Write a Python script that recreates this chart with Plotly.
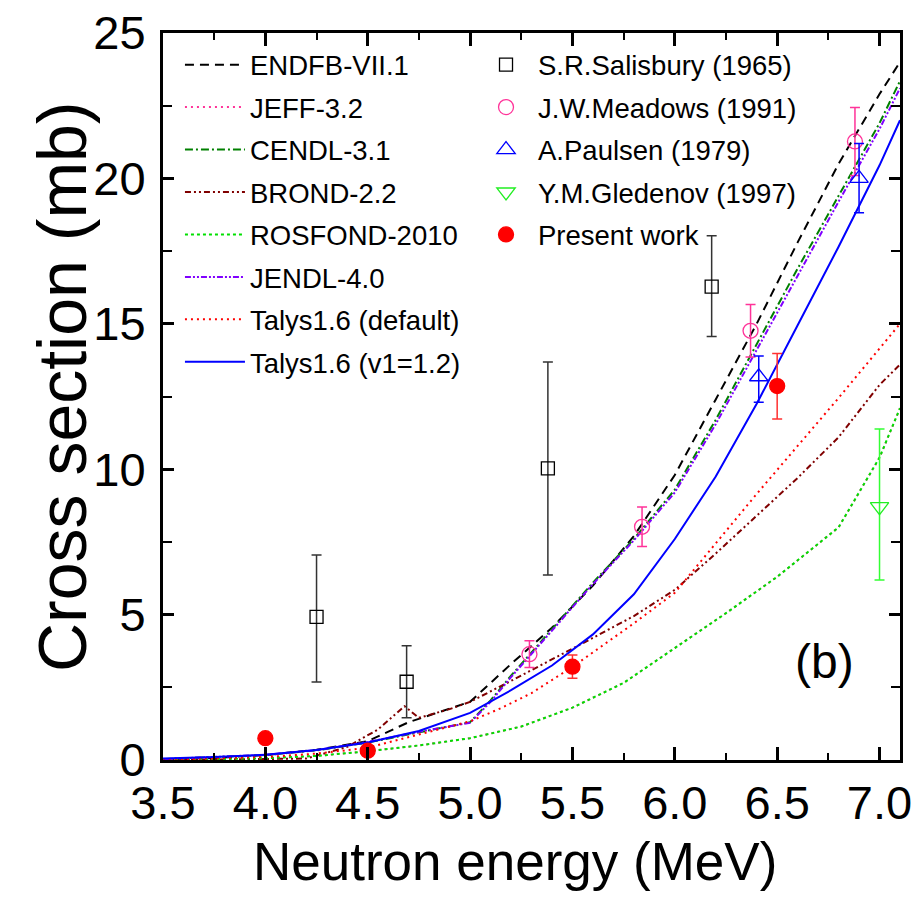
import plotly.graph_objects as go

# ---------------- evaluated / calculated curves (E in MeV, sigma in mb) -------------
endf_e = [3.5, 3.75, 4.0, 4.25, 4.5, 4.7, 5.0, 5.2, 5.4, 5.6, 5.8, 6.0, 6.2, 6.4, 6.6, 6.8, 7.0, 7.1]
endf_xs = [0.02, 0.07, 0.17, 0.35, 0.65, 1.3, 2.0, 3.3, 4.55, 6.0, 7.7, 9.8, 12.4, 15.0, 17.8, 20.5, 22.9, 24.0]

jeff_e = [3.5, 4.0, 4.25, 4.5, 4.75, 5.0, 5.25, 5.5, 5.75, 6.0, 6.25, 6.5, 6.8, 7.0, 7.1]
jeff_xs = [0.0, 0.06, 0.14, 0.3, 0.5, 0.75, 1.15, 1.8, 2.65, 3.85, 5.05, 6.3, 8.0, 10.4, 12.1]

cendl_e = [3.5, 4.0, 4.25, 4.5, 4.75, 5.0, 5.1, 5.2, 5.4, 5.6, 5.8, 6.0, 6.2, 6.4, 6.6, 6.8, 7.0, 7.1]
cendl_xs = [0.03, 0.17, 0.33, 0.6, 0.95, 1.3, 2.05, 2.9, 4.5, 6.1, 7.6, 9.3, 11.7, 14.3, 16.9, 19.4, 21.9, 23.35]

brond_e = [3.5, 4.0, 4.2, 4.4, 4.55, 4.68, 4.75, 4.9, 5.0, 5.2, 5.4, 5.6, 5.8, 6.0, 6.2, 6.4, 6.6, 6.8, 7.0, 7.1]
brond_xs = [0.0, 0.02, 0.05, 0.45, 1.05, 1.85, 1.45, 1.75, 2.0, 2.72, 3.45, 4.2, 4.95, 5.85, 7.1, 8.4, 9.7, 11.1, 12.9, 13.6]

rosfond_e = [3.5, 4.0, 4.25, 4.5, 4.75, 5.0, 5.25, 5.5, 5.75, 6.0, 6.25, 6.5, 6.8, 7.0, 7.1]
rosfond_xs = [0.0, 0.06, 0.14, 0.3, 0.5, 0.75, 1.15, 1.8, 2.65, 3.85, 5.05, 6.3, 8.0, 10.4, 12.1]

jendl_e = [3.5, 4.0, 4.25, 4.5, 4.75, 5.0, 5.1, 5.2, 5.4, 5.6, 5.8, 6.0, 6.2, 6.4, 6.6, 6.8, 7.0, 7.1]
jendl_xs = [0.03, 0.18, 0.34, 0.62, 0.97, 1.28, 2.0, 2.85, 4.45, 6.05, 7.55, 9.2, 11.55, 14.1, 16.7, 19.2, 21.7, 23.1]

talys_def_e = [3.5, 4.0, 4.25, 4.5, 4.75, 5.0, 5.15, 5.3, 5.5, 5.8, 6.0, 6.2, 6.4, 6.6, 6.8, 7.0, 7.1]
talys_def_xs = [0.01, 0.1, 0.22, 0.42, 0.88, 1.33, 1.78, 2.3, 3.2, 4.7, 5.75, 7.45, 9.15, 10.8, 12.45, 14.15, 15.0]

talys_v1_e = [3.5, 3.75, 4.0, 4.25, 4.5, 4.75, 5.0, 5.2, 5.4, 5.6, 5.8, 6.0, 6.2, 6.4, 6.6, 6.8, 7.0, 7.1]
talys_v1_xs = [0.05, 0.1, 0.18, 0.34, 0.6, 1.0, 1.62, 2.4, 3.25, 4.32, 5.7, 7.6, 9.75, 12.25, 14.95, 17.65, 20.45, 22.0]

# ---------------- experimental data -------------
sal_e = [4.25, 4.69, 5.38, 6.18]
sal_xs = [4.92, 2.69, 10.03, 16.28]
sal_up = [2.13, 1.24, 3.66, 1.75]
sal_dn = [2.24, 1.24, 3.67, 1.72]

mea_e = [5.29, 5.84, 6.37, 6.88]
mea_xs = [3.64, 8.02, 14.76, 21.27]
mea_err = [0.46, 0.68, 0.9, 1.17]

pau_e = [6.41, 6.90]
pau_xs = [13.18, 20.0]
pau_up = [0.71, 1.2]
pau_dn = [0.88, 1.18]

gle_e = [7.0]
gle_xs = [8.71]
gle_up = [2.67]
gle_dn = [2.52]

pw_e = [4.0, 4.5, 5.5, 6.5]
pw_xs = [0.75, 0.32, 3.21, 12.86]
pw_up = [0.0, 0.0, 0.4, 1.12]
pw_dn = [0.0, 0.0, 0.4, 1.13]

x_title = "Neutron energy (MeV)"
y_title = "Cross section (mb)"
panel_label = "(b)"

FONT = "Liberation Sans, Arial, sans-serif"

fig = go.Figure()

curves = [
    ("ENDFB-VII.1", endf_e, endf_xs, "#000000", "9px,6px"),
    ("JEFF-3.2", jeff_e, jeff_xs, "#ff3399", "2px,4px"),
    ("CENDL-3.1", cendl_e, cendl_xs, "#008000", "8px,3px,2px,3px"),
    ("BROND-2.2", brond_e, brond_xs, "#800000", "6px,3px,2px,3px,2px,3px"),
    ("ROSFOND-2010", rosfond_e, rosfond_xs, "#00e000", "3px,3px"),
    ("JENDL-4.0", jendl_e, jendl_xs, "#8000ff", "6px,2px,2px,2px,2px,2px"),
    ("Talys1.6 (default)", talys_def_e, talys_def_xs, "#ff0000", "2px,4px"),
    ("Talys1.6 (v1=1.2)", talys_v1_e, talys_v1_xs, "#0000ff", "solid"),
]
for name, e, xs, col, dash in curves:
    fig.add_trace(go.Scatter(x=e, y=xs, mode="lines", name=name,
                             line=dict(color=col, width=2, dash=dash),
                             legend="legend", legendgroup=name))

def exp_trace(name, e, xs, up, dn, symbol, col, ecol, size):
    return go.Scatter(
        x=e, y=xs, mode="markers", name=name, legend="legend2", legendgroup=name,
        marker=dict(symbol=symbol, size=size, color=col,
                    line=dict(color=col, width=1.3)),
        error_y=dict(type="data", symmetric=False, array=up, arrayminus=dn,
                     color=ecol, thickness=1.5, width=5),
    )

fig.add_trace(exp_trace("S.R.Salisbury (1965)", sal_e, sal_xs, sal_up, sal_dn,
                        "square-open", "#000000", "#333333", 13))
fig.add_trace(exp_trace("J.W.Meadows (1991)", mea_e, mea_xs, mea_err, mea_err,
                        "circle-open", "#ff3399", "#ff3399", 15))
fig.add_trace(exp_trace("A.Paulsen (1979)", pau_e, pau_xs, pau_up, pau_dn,
                        "triangle-up-open", "#0000ff", "#0000ff", 16))
fig.add_trace(exp_trace("Y.M.Gledenov (1997)", gle_e, gle_xs, gle_up, gle_dn,
                        "triangle-down-open", "#22ee22", "#33ff33", 16))
fig.add_trace(exp_trace("Present work", pw_e, pw_xs, pw_up, pw_dn,
                        "circle", "#ff0000", "#ff3030", 15))

fig.add_annotation(x=6.73, y=3.4, xref="x", yref="y", text=panel_label, showarrow=False,
                   font=dict(family=FONT, size=48, color="black"))
# axis titles (placed as paper-anchored text to match the original offsets)
fig.add_annotation(x=0.478, y=-0.140, xref="paper", yref="paper", text=x_title,
                   showarrow=False, xanchor="center", yanchor="middle",
                   font=dict(family=FONT, size=53, color="black"))
fig.add_annotation(x=-0.137, y=0.513, xref="paper", yref="paper", text=y_title,
                   textangle=-90, showarrow=False, xanchor="center", yanchor="middle",
                   font=dict(family=FONT, size=68, color="black"))

axis_common = dict(showline=True, linewidth=3, linecolor="black", mirror="allticks",
                   ticks="inside", tickcolor="black", tickwidth=2.5,
                   showgrid=False, zeroline=False, automargin=False)

fig.update_xaxes(range=[3.5, 7.1], tick0=3.5, dtick=0.5, tickformat=".1f", ticklen=13,
                 ticklabeloverflow="allow",
                 minor=dict(ticks="inside", dtick=0.25, tick0=3.5, ticklen=7,
                            tickwidth=2, tickcolor="black"),
                 tickfont=dict(family=FONT, size=47, color="black"),
                 **axis_common)
fig.update_yaxes(range=[0, 25], tick0=0, dtick=5, ticklen=11,
                 minor=dict(ticks="inside", dtick=2.5, ticklen=9,
                            tickwidth=2, tickcolor="black"),
                 ticklabelstandoff=5,
                 tickfont=dict(family=FONT, size=47, color="black"),
                 **axis_common)

fig.update_layout(
    width=916, height=908,
    margin=dict(l=163, r=16, t=33, b=148, autoexpand=False),
    plot_bgcolor="white", paper_bgcolor="white",
    showlegend=True,
    legend=dict(x=0.023, y=0.99, xanchor="left", yanchor="top",
                bgcolor="rgba(0,0,0,0)", itemwidth=60, tracegroupgap=3.7,
                font=dict(family=FONT, size=27.5, color="black")),
    legend2=dict(x=0.422, y=0.99, xanchor="left", yanchor="top",
                 bgcolor="rgba(0,0,0,0)", itemwidth=54, tracegroupgap=3.7,
                 font=dict(family=FONT, size=27.5, color="black")),
)

fig.write_html("out.html")
